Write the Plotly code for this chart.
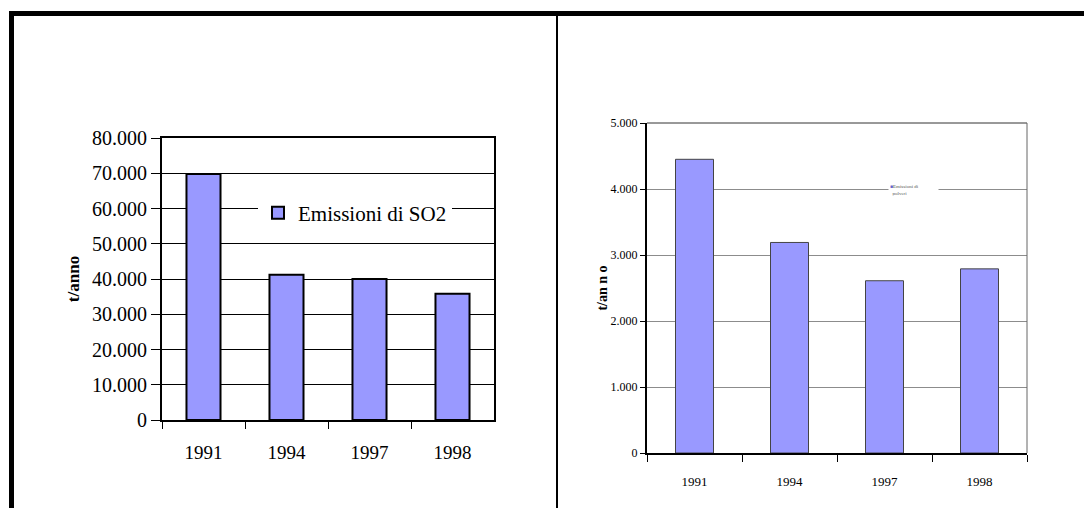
import plotly.graph_objects as go
from plotly.subplots import make_subplots

anni = ["1991", "1994", "1997", "1998"]
so2 = [69800, 41200, 40000, 35800]        # t/anno
polveri = [4450, 3190, 2610, 2790]        # t/anno

OFF = 8                      # margine del body della pagina html
W, H = 1092 - OFF, 508 - OFF
SERIF = "Liberation Serif, Times New Roman, serif"
LILLA = "#9999FF"

def px(x):
    return (x - OFF) / W

def py(y):
    return 1 - (y - OFF) / H

fig = make_subplots(rows=1, cols=2)

fig.add_trace(go.Bar(
    x=anni, y=so2, name="Emissioni di SO2", width=0.41,
    marker=dict(color=LILLA, line=dict(color="black", width=2)),
), row=1, col=1)

fig.add_trace(go.Bar(
    x=anni, y=polveri, name="Emissioni di polveri", width=0.4,
    marker=dict(color=LILLA, line=dict(color="#444444", width=1)),
    showlegend=False,
), row=1, col=2)

# grafico di sinistra (SO2)
fig.update_xaxes(
    domain=[px(162), px(494)], type="category", automargin=False,
    showline=True, mirror=True, linecolor="black", linewidth=2,
    ticks="outside", tickson="boundaries", ticklen=7, tickcolor="black",
    tickfont=dict(family=SERIF, size=19, color="black"),
    ticklabelstandoff=14,
    row=1, col=1,
)
fig.update_yaxes(
    domain=[py(420), py(138)], range=[0, 80000], dtick=10000, tickformat=",d",
    automargin=False,
    showline=True, mirror=True, linecolor="black", linewidth=2,
    showgrid=True, gridcolor="black", gridwidth=1, zeroline=False,
    ticks="outside", ticklen=9, tickcolor="black",
    tickfont=dict(family=SERIF, size=20, color="black"),
    title=dict(text="<b>t/anno</b>", standoff=8,
               font=dict(family=SERIF, size=17, color="black")),
    row=1, col=1,
)

# grafico di destra (polveri)
fig.update_xaxes(
    domain=[px(647), px(1027)], type="category", automargin=False,
    showline=True, linecolor="black", linewidth=2,
    ticks="outside", tickson="boundaries", ticklen=7, tickcolor="black",
    tickfont=dict(family=SERIF, size=13, color="black"),
    ticklabelstandoff=15,
    row=1, col=2,
)
fig.update_yaxes(
    domain=[py(453), py(123)], range=[0, 5000], dtick=1000, tickformat=",d",
    automargin=False,
    showline=True, linecolor="black", linewidth=2,
    showgrid=True, gridcolor="#8c8c8c", gridwidth=1, zeroline=False,
    ticks="outside", ticklen=5, tickcolor="black",
    tickfont=dict(family=SERIF, size=12, color="black"),
    title=dict(text="<b>t/an n o</b>", standoff=0,
               font=dict(family=SERIF, size=14, color="black")),
    row=1, col=2,
)

# bordi superiore e destro (sottili) del grafico di destra
fig.add_shape(type="line", xref="x2 domain", yref="y2 domain",
              x0=0, x1=1, y0=1, y1=1, line=dict(color="#333333", width=1))
fig.add_shape(type="line", xref="x2 domain", yref="y2 domain",
              x0=1, x1=1, y0=0, y1=1, line=dict(color="#666666", width=1))

# cornice della tabella
fig.add_shape(type="line", xref="paper", yref="paper",
              x0=px(9), x1=1, y0=py(13.5), y1=py(13.5),
              line=dict(color="black", width=5))
fig.add_shape(type="line", xref="paper", yref="paper",
              x0=px(11.5), x1=px(11.5), y0=0, y1=py(11),
              line=dict(color="black", width=5))
fig.add_shape(type="line", xref="paper", yref="paper",
              x0=px(557), x1=px(557), y0=0, y1=py(14),
              line=dict(color="black", width=2))

# legenda minuscola del grafico di destra
fig.add_annotation(
    xref="paper", yref="paper", x=px(888), y=py(190),
    xanchor="left", yanchor="middle", width=47, align="left",
    text="<span style='color:#6666cc'>■</span>Emissioni di<br>&nbsp;&nbsp;polveri",
    showarrow=False, bgcolor="white",
    font=dict(family=SERIF, size=5, color="#555555"),
)

fig.update_layout(
    width=W, height=H,
    margin=dict(l=0, r=0, t=0, b=0, autoexpand=False),
    paper_bgcolor="white", plot_bgcolor="white",
    separators=",.",
    showlegend=True,
    legend=dict(
        x=px(258), y=py(213), xanchor="left", yanchor="middle",
        bgcolor="white", borderwidth=0,
        font=dict(family=SERIF, size=21, color="black"),
    ),
)

fig.write_html("out.html")
